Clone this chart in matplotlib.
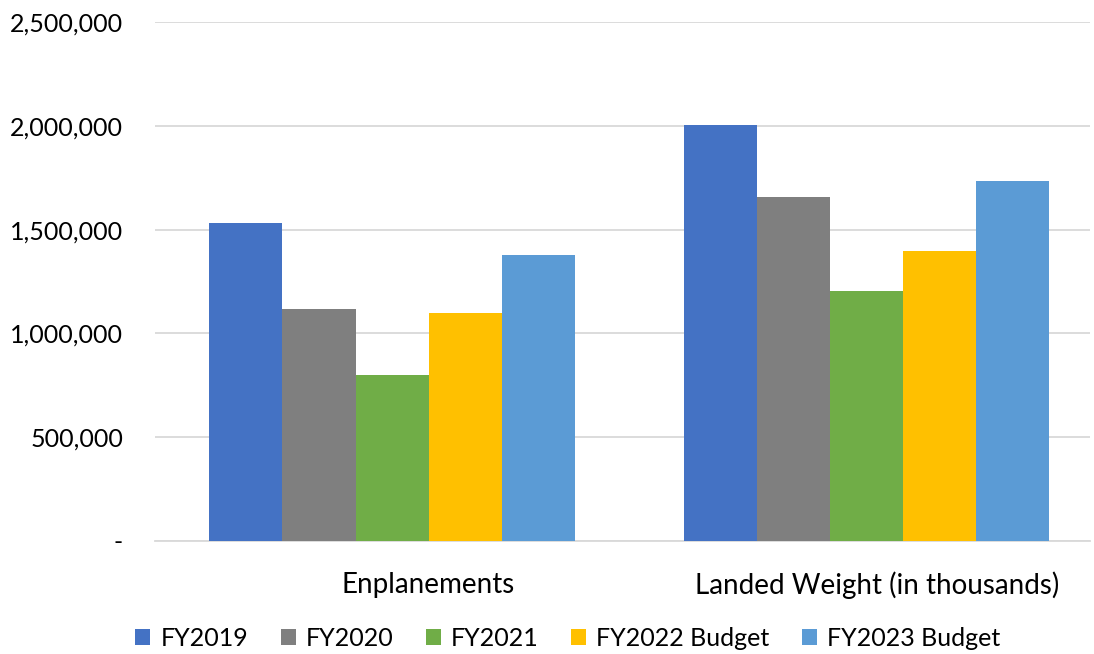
import matplotlib
matplotlib.use("Agg")
import matplotlib.pyplot as plt
import numpy as np
from matplotlib.ticker import FuncFormatter

categories = ["Enplanements", "Landed Weight (in thousands)"]
series = ["FY2019", "FY2020", "FY2021", "FY2022 Budget", "FY2023 Budget"]
fy2019 = [1532000, 2005000]
fy2020 = [1118000, 1658000]
fy2021 = [800000, 1205000]
fy2022_budget = [1099000, 1398000]
fy2023_budget = [1378000, 1735000]
colors = ["#4472C4", "#7F7F7F", "#70AD47", "#FFC000", "#5B9BD5"]

plt.rcParams["font.family"] = ["Lato", "DejaVu Sans"]

fig = plt.figure(figsize=(10.94, 6.54), dpi=100)
ax = fig.add_axes([0.1417, 0.1728, 0.8547, 0.7936])

x = np.arange(len(categories))
w = 0.154
values = [fy2019, fy2020, fy2021, fy2022_budget, fy2023_budget]
for i, (name, vals, c) in enumerate(zip(series, values, colors)):
    ax.bar(x + (i - 2) * w, vals, w, color=c, label=name, zorder=3)

ax.set_xlim(-0.4995, 1.471)
ax.set_ylim(0, 2500000)
ax.set_yticks(np.arange(0, 2500001, 500000))
ax.yaxis.set_major_formatter(FuncFormatter(lambda v, p: "-" if v == 0 else f"{v:,.0f}"))
ax.grid(axis="y", color="#D9D9D9", linewidth=1.3, zorder=0)
for s in ["top", "right", "left"]:
    ax.spines[s].set_visible(False)
ax.spines["bottom"].set_color("#D9D9D9")
ax.spines["bottom"].set_linewidth(1.3)
ax.tick_params(axis="both", length=0, colors="black")
ax.tick_params(axis="y", pad=23, labelsize=18)
ax.tick_params(axis="x", pad=22, labelsize=20)
# category labels sit a little right of the group centres in the original
ax.set_xticks(x + np.array([0.076, 0.022]), categories)

fig.legend(*ax.get_legend_handles_labels(), loc="center", bbox_to_anchor=(0.519, 0.024),
           ncol=5, frameon=False, fontsize=18, handlelength=0.6, handleheight=0.6,
           handletextpad=0.4, columnspacing=1.3, borderpad=0)

fig.savefig("out.png", dpi=100)
